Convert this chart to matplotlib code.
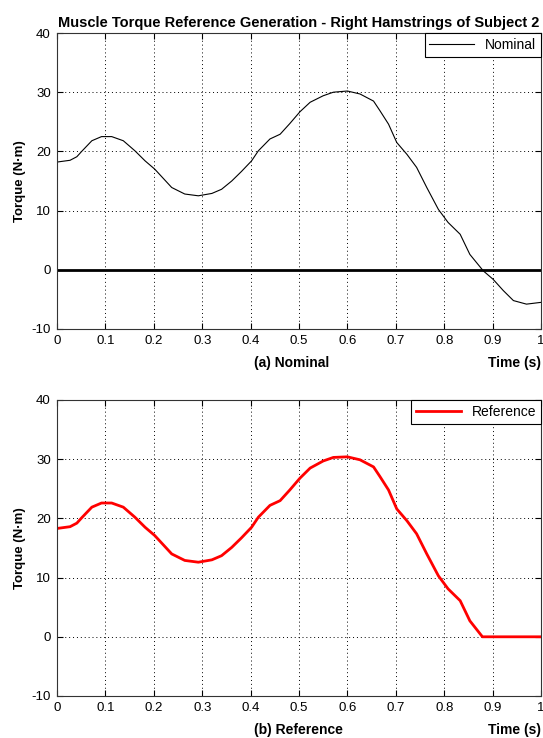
import numpy as np
import matplotlib
matplotlib.use('Agg')
import matplotlib.pyplot as plt

# ***************************
# Data
# ***************************
time_nominal = [0.0, 0.027, 0.041, 0.051, 0.072, 0.092, 0.113, 0.137, 0.161, 0.182,
                0.202, 0.237, 0.264, 0.292, 0.32, 0.34, 0.361, 0.381, 0.402, 0.416,
                0.44, 0.461, 0.481, 0.502, 0.523, 0.55, 0.571, 0.60, 0.626, 0.654,
                0.667, 0.685, 0.702, 0.723, 0.743, 0.764, 0.788, 0.808, 0.833, 0.853,
                0.881, 0.901, 0.922, 0.943, 0.97, 1.0]
torque_nominal = [18.2, 18.5, 19.1, 20.0, 21.8, 22.5, 22.5, 21.8, 20.1, 18.4,
                  17.0, 13.9, 12.8, 12.5, 12.9, 13.6, 15.0, 16.6, 18.4, 20.1,
                  22.1, 22.9, 24.7, 26.7, 28.3, 29.4, 30.0, 30.2, 29.7, 28.5,
                  26.9, 24.6, 21.5, 19.5, 17.3, 13.9, 10.2, 8.0, 6.0, 2.6,
                  -0.2, -1.6, -3.5, -5.2, -5.8, -5.5]

time_reference = [0.0, 0.027, 0.041, 0.051, 0.072, 0.092, 0.113, 0.137, 0.161, 0.182,
                  0.202, 0.237, 0.264, 0.292, 0.32, 0.34, 0.361, 0.381, 0.402, 0.416,
                  0.44, 0.461, 0.481, 0.502, 0.523, 0.55, 0.571, 0.60, 0.626, 0.654,
                  0.667, 0.685, 0.702, 0.723, 0.743, 0.764, 0.788, 0.808, 0.833, 0.853,
                  0.879, 0.9, 1.0]
torque_reference = [18.3, 18.6, 19.2, 20.1, 21.9, 22.6, 22.6, 21.9, 20.2, 18.5,
                    17.1, 14.0, 12.9, 12.6, 13.0, 13.7, 15.1, 16.7, 18.5, 20.2,
                    22.2, 23.0, 24.8, 26.8, 28.5, 29.7, 30.3, 30.4, 29.9, 28.7,
                    27.1, 24.8, 21.6, 19.6, 17.4, 14.0, 10.3, 8.1, 6.1, 2.7,
                    0.0, 0.0, 0.0]

x_ticks = [0, 0.1, 0.2, 0.3, 0.4, 0.5, 0.6, 0.7, 0.8, 0.9, 1]
x_tick_labels = ['0', '0.1', '0.2', '0.3', '0.4', '0.5', '0.6', '0.7', '0.8', '0.9', '1']
y_ticks = [-10, 0, 10, 20, 30, 40]

plt.rcParams['font.family'] = ['Liberation Sans', 'DejaVu Sans']
plt.rcParams['axes.unicode_minus'] = False

fig = plt.figure(figsize=(5.43, 7.38), dpi=100)
W, H = 543.0, 738.0
AX_LEFT, AX_W, AX_H = 57, 484, 296


def setup_axes(ax, sub_label):
    ax.set_xlim(0, 1)
    ax.set_ylim(-10, 40)
    ax.set_xticks(x_ticks)
    ax.set_xticklabels(x_tick_labels)
    ax.set_yticks(y_ticks)
    ax.tick_params(direction='in', top=True, right=True, length=4,
                   labelsize=9.5, colors='black', pad=4.5)
    ax.grid(True, linestyle=(0, (1, 3)), color='black', linewidth=0.7)
    for sp in ax.spines.values():
        sp.set_color('#333333')
        sp.set_linewidth(0.8)
    ax.set_ylabel('Torque (N·m)', fontsize=9.5, fontweight='bold')
    ax.yaxis.set_label_coords((26 - AX_LEFT) / AX_W, 0.5)
    ax.text((254 - AX_LEFT) / AX_W, -0.115, sub_label, transform=ax.transAxes,
            ha='left', va='center', fontsize=10, fontweight='bold')
    ax.text(1.0, -0.115, 'Time (s)', transform=ax.transAxes,
            ha='right', va='center', fontsize=10, fontweight='bold')


# ***************************
# (a) Nominal
# ***************************
ax1 = fig.add_axes([AX_LEFT / W, 1 - 329 / H, AX_W / W, AX_H / H])
ax1.plot(time_nominal, torque_nominal, color='black', linewidth=0.8, label='Nominal')
ax1.axhline(0, color='black', linewidth=2)
setup_axes(ax1, '(a) Nominal')
ax1.set_title('Muscle Torque Reference Generation - Right Hamstrings of Subject 2',
              fontsize=10.5, fontweight='bold', pad=4)
leg1 = ax1.legend(loc='upper right', fancybox=False, edgecolor='black',
                  fontsize=10, borderaxespad=0, handlelength=3.2, framealpha=1,
                  borderpad=0.35)
leg1.get_frame().set_linewidth(0.8)

# ***************************
# (b) Reference
# ***************************
ax2 = fig.add_axes([AX_LEFT / W, 1 - 696 / H, AX_W / W, AX_H / H])
ax2.plot(time_reference, torque_reference, color='red', linewidth=2, label='Reference')
setup_axes(ax2, '(b) Reference')
leg2 = ax2.legend(loc='upper right', fancybox=False, edgecolor='black',
                  fontsize=10, borderaxespad=0, handlelength=3.2, framealpha=1,
                  borderpad=0.35)
leg2.get_frame().set_linewidth(0.8)

fig.savefig('out.png', dpi=100)
